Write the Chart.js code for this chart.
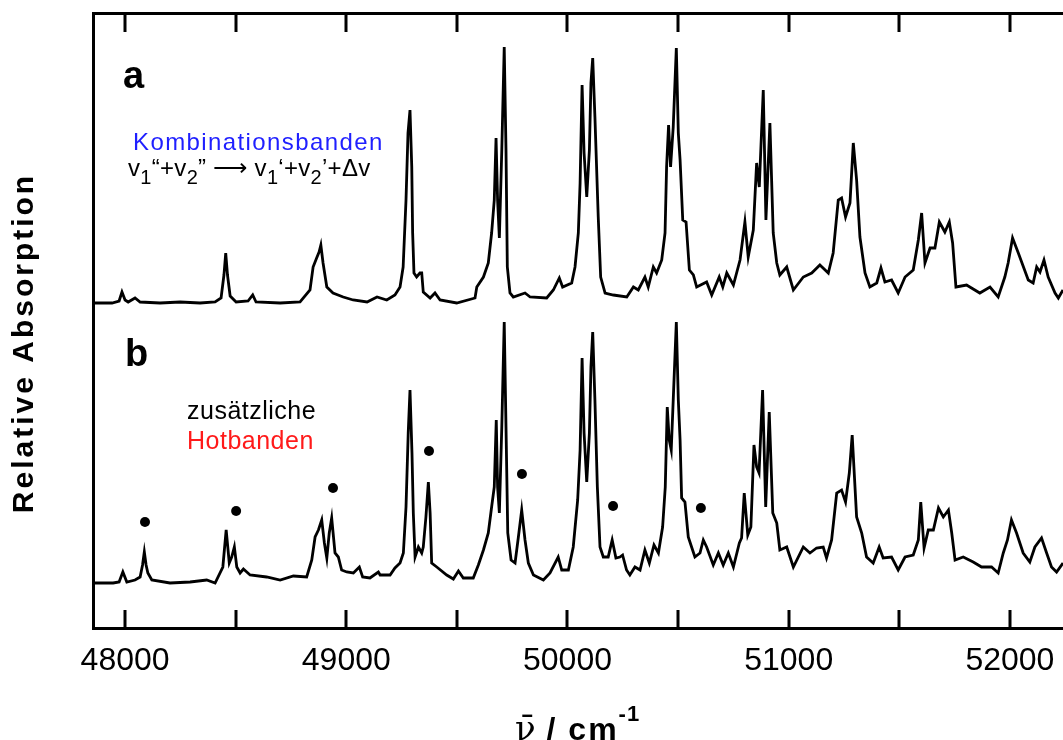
<!DOCTYPE html>
<html>
<head>
<meta charset="utf-8">
<script src="https://cdn.jsdelivr.net/npm/chart.js@4.4.1/dist/chart.umd.min.js"></script>
<style>
  html, body { margin: 0; padding: 0; background: #fff; overflow: hidden; }
</style>
</head>
<body>
<canvas id="chart" width="1063" height="740"></canvas>
<script>
// Wavenumber axis (cm-1) and tick marks.
const tickValues = [48000, 48500, 49000, 49500, 50000, 50500, 51000, 51500, 52000];
const X_MIN = 47855;
const X_MAX = 52240;

// Spectrum a: combination bands (absorption above its own baseline, arb. units).
const nuA = [47855,47941,47973,47986,48000,48014,48045,48068,48158,48249,
  48339,48407,48434,48447,48455,48463,48475,48502,48556,48577,
  48592,48701,48791,48836,48850,48866,48877,48885,48895,48912,
  48940,48986,49031,49094,49139,49183,49220,49243,49257,49270,
  49279,49288,49296,49300,49306,49318,49333,49341,49348,49379,
  49401,49424,49499,49582,49590,49620,49642,49657,49669,49677,
  49684,49692,49703,49714,49722,49728,49740,49755,49808,49831,
  49906,49936,49963,49978,50019,50034,50049,50057,50066,50075,
  50087,50099,50106,50114,50124,50139,50150,50170,50207,50268,
  50298,50320,50350,50365,50388,50403,50426,50441,50448,50457,
  50466,50478,50492,50501,50509,50521,50536,50551,50569,50584,
  50629,50652,50686,50702,50720,50750,50780,50802,50817,50840,
  50855,50867,50885,50897,50915,50930,50946,50960,50991,51021,
  51066,51104,51141,51179,51201,51224,51239,51257,51277,51292,
  51307,51322,51345,51367,51398,51417,51435,51465,51495,51526,
  51563,51586,51601,51616,51639,51661,51681,51706,51726,51741,
  51756,51804,51864,51910,51947,51977,51992,52012,52038,52083,
  52105,52121,52136,52154,52173,52204,52219,52240];
const absA = [0,0,2,11,3,1,5,1,0,1,
  0,1,5,28,50,28,7,1,2,8,
  1,0,1,13,36,45,51,58,40,16,
  10,6,3,1,6,3,8,16,36,103,
  170,193,136,70,30,26,30,30,11,5,
  10,3,0,5,16,26,40,70,103,165,
  103,65,153,256,153,36,10,6,10,6,
  5,13,25,16,20,36,70,120,218,150,
  106,153,220,245,186,86,26,10,8,6,
  16,13,26,16,36,30,43,70,136,178,
  136,176,255,170,143,83,81,33,28,16,
  21,8,26,16,30,18,43,81,46,73,
  140,116,213,83,180,70,40,28,36,13,
  26,30,38,30,50,103,105,86,100,160,
  123,66,30,16,20,35,21,23,10,26,
  33,63,90,40,55,55,81,71,81,60,
  16,18,10,16,6,26,40,65,50,23,
  20,36,31,43,26,10,5,13];

// Spectrum b: with additional hot bands.
const nuB = [47857,47946,47973,47990,48008,48045,48068,48079,48087,48095,
  48103,48121,48203,48294,48369,48407,48442,48457,48471,48482,
  48494,48505,48520,48535,48565,48640,48701,48761,48821,48844,
  48859,48874,48889,48901,48912,48923,48934,48949,48964,48979,
  49002,49032,49059,49074,49107,49145,49153,49198,49220,49243,
  49258,49270,49280,49288,49297,49303,49311,49326,49341,49348,
  49360,49371,49379,49386,49409,49454,49484,49507,49529,49574,
  49597,49620,49642,49657,49669,49678,49684,49692,49703,49714,
  49722,49730,49745,49763,49778,49793,49808,49823,49846,49891,
  49921,49958,49974,50004,50026,50046,50057,50066,50075,50087,
  50099,50106,50114,50124,50135,50147,50162,50184,50202,50219,
  50237,50249,50267,50282,50305,50328,50350,50370,50391,50411,
  50430,50442,50451,50460,50469,50478,50492,50501,50509,50516,
  50531,50546,50561,50576,50599,50614,50629,50659,50682,50704,
  50727,50750,50777,50787,50799,50815,50829,50843,50855,50866,
  50882,50896,50912,50928,50946,50960,50991,51021,51066,51096,
  51126,51156,51171,51194,51217,51239,51257,51274,51287,51307,
  51330,51352,51382,51409,51427,51465,51495,51526,51563,51586,
  51597,51612,51631,51654,51677,51699,51722,51737,51752,51789,
  51834,51872,51917,51947,51970,51989,52007,52030,52060,52090,
  52113,52143,52166,52188,52211,52240];
const absB = [0,0,1,11,1,3,6,18,31,18,
  10,3,0,1,3,0,16,53,20,26,
  36,16,10,14,8,6,3,7,6,23,
  46,53,63,40,25,50,65,30,26,13,
  11,10,16,6,5,11,8,8,15,20,
  30,76,150,193,130,70,26,36,30,36,
  66,101,70,20,16,8,4,12,5,5,
  18,33,50,76,96,163,96,70,156,261,
  156,50,23,20,46,73,43,20,8,3,
  10,26,13,13,36,83,133,225,150,101,
  150,216,251,183,96,36,26,26,43,25,
  26,28,13,8,16,13,33,20,38,30,
  56,96,176,143,133,183,261,183,143,85,
  81,46,36,26,30,43,36,18,30,18,
  30,16,40,45,90,48,56,138,116,110,
  193,76,171,70,60,33,36,16,36,30,
  35,36,25,43,90,93,81,110,148,66,
  50,26,20,36,25,26,13,26,28,43,
  81,35,53,53,75,66,73,50,23,26,
  21,16,16,10,30,43,63,50,30,21,
  36,45,30,16,11,20];

// Hot band markers (dots above spectrum b).
const hotbandNu = [48090, 48502, 48940, 49374, 49794, 50206, 50603];
const hotbandLevel = [61, 72, 95, 132, 109, 77, 75];

// Vertical stacking of the two traces.
const OFFSET_A = 325;
const OFFSET_B = 45;

const toPoints = (nu, abs, offset) => nu.map((x, i) => ({x, y: abs[i] + offset}));

const FONT = "'Liberation Sans', Arial, sans-serif";

// Draw a text, optionally letter-spaced, and return its advance.
function drawText(ctx, text, x, y, font, color, spacing) {
  ctx.font = font;
  ctx.fillStyle = color;
  ctx.letterSpacing = (spacing || 0) + 'px';
  ctx.fillText(text, x, y);
  return ctx.measureText(text).width;
}

const ctx = document.getElementById('chart').getContext('2d');
new Chart(ctx, {
  type: 'line',
  data: {
    datasets: [
      {
        label: 'a',
        data: toPoints(nuA, absA, OFFSET_A),
        borderColor: '#000',
        borderWidth: 2.8,
        pointRadius: 0,
        tension: 0,
      },
      {
        label: 'b',
        data: toPoints(nuB, absB, OFFSET_B),
        borderColor: '#000',
        borderWidth: 2.8,
        pointRadius: 0,
        tension: 0,
      },
      {
        label: 'Hotbanden',
        data: toPoints(hotbandNu, hotbandLevel, OFFSET_B),
        showLine: false,
        pointRadius: 5,
        pointBackgroundColor: '#000',
        pointBorderWidth: 0,
      },
    ],
  },
  options: {
    responsive: false,
    animation: false,
    devicePixelRatio: 1,
    layout: {padding: 0, autoPadding: false},
    plugins: {
      legend: {display: false},
      tooltip: {enabled: false},
    },
    scales: {
      x: {
        type: 'linear',
        position: 'bottom',
        min: X_MIN,
        max: X_MAX,
        afterBuildTicks: (scale) => { scale.ticks = tickValues.map(v => ({value: v})); },
        afterFit: (scale) => {
          scale.height = 112;
          scale.paddingLeft = 0;
          scale.paddingRight = 0;
        },
        grid: {display: false, drawTicks: false},
        border: {display: true, color: '#000', width: 3},
        ticks: {
          padding: 14,
          color: '#000',
          maxRotation: 0,
          autoSkip: false,
          font: {family: FONT, size: 32},
          callback: (v) => (v % 1000 === 0 ? String(v) : ''),
        },
      },
      xTop: {
        type: 'linear',
        position: 'top',
        min: X_MIN,
        max: X_MAX,
        afterFit: (scale) => { scale.height = 13; },
        grid: {display: false, drawTicks: false},
        border: {display: true, color: '#000', width: 3},
        ticks: {display: false},
      },
      y: {
        type: 'linear',
        position: 'left',
        min: 0,
        max: 615,
        afterFit: (scale) => { scale.width = 93; },
        grid: {display: false, drawTicks: false},
        border: {display: true, color: '#000', width: 3},
        ticks: {display: false},
      },
    },
  },
  plugins: [
    {
      // Tick marks pointing into the frame, bottom and top.
      id: 'innerTicks',
      afterDatasetsDraw: (chart) => {
        const {ctx, chartArea: area, scales: {x}} = chart;
        ctx.save();
        ctx.strokeStyle = '#000';
        ctx.lineWidth = 3;
        x.ticks.forEach((t) => {
          const px = Math.round(x.getPixelForValue(t.value));
          ctx.beginPath();
          ctx.moveTo(px, area.bottom);
          ctx.lineTo(px, area.bottom - 18);
          ctx.moveTo(px, area.top);
          ctx.lineTo(px, area.top + 19);
          ctx.stroke();
        });
        ctx.restore();
      },
    },
    {
      // Panel letters, notes and axis titles.
      id: 'notes',
      afterDraw: (chart) => {
        const {ctx} = chart;
        ctx.save();
        ctx.textAlign = 'left';
        ctx.textBaseline = 'alphabetic';

        drawText(ctx, 'a', 123, 88, 'bold 38px ' + FONT, '#000');
        drawText(ctx, 'b', 125, 366, 'bold 38px ' + FONT, '#000');

        drawText(ctx, 'Kombinationsbanden', 133, 150, '24px ' + FONT, '#1f1fff', 1.4);

        // v1" + v2"  ->  v1' + v2' + dv
        const parts = [
          ['v', 0], ['1', 1], ['\u201C+v', 0], ['2', 1], ['\u201D', 0], [' \u27F6 ', 0],
          ['v', 0], ['1', 1], ['\u2018+v', 0], ['2', 1], ['\u2019+\u0394v', 0],
        ];
        let fx = 128;
        parts.forEach(([t, sub]) => {
          const w = sub
            ? drawText(ctx, t, fx, 184, '20px ' + FONT, '#000', 0.3)
            : drawText(ctx, t, fx, 176, '24px ' + FONT, '#000', 0.3);
          fx += w;
        });

        drawText(ctx, 'zusätzliche', 187, 419, '25px ' + FONT, '#000', 0.5);
        drawText(ctx, 'Hotbanden', 187, 449, '25px ' + FONT, '#ff1a1a', 0.5);

        // x-axis title
        let tx = 515;
        tx += drawText(ctx, '\u03BD\u0304', tx, 740, '34px "DejaVu Serif", serif', '#000', 0);
        tx += drawText(ctx, ' / cm', tx, 740, 'bold 32px ' + FONT, '#000', 2);
        drawText(ctx, '-1', tx, 721, 'bold 22px ' + FONT, '#000', 1);

        // y-axis title
        ctx.translate(25, 343);
        ctx.rotate(-Math.PI / 2);
        ctx.textAlign = 'center';
        ctx.textBaseline = 'middle';
        drawText(ctx, 'Relative Absorption', 0, 0, 'bold 30px ' + FONT, '#000', 3);
        ctx.restore();
      },
    },
  ],
});
</script>
</body>
</html>
